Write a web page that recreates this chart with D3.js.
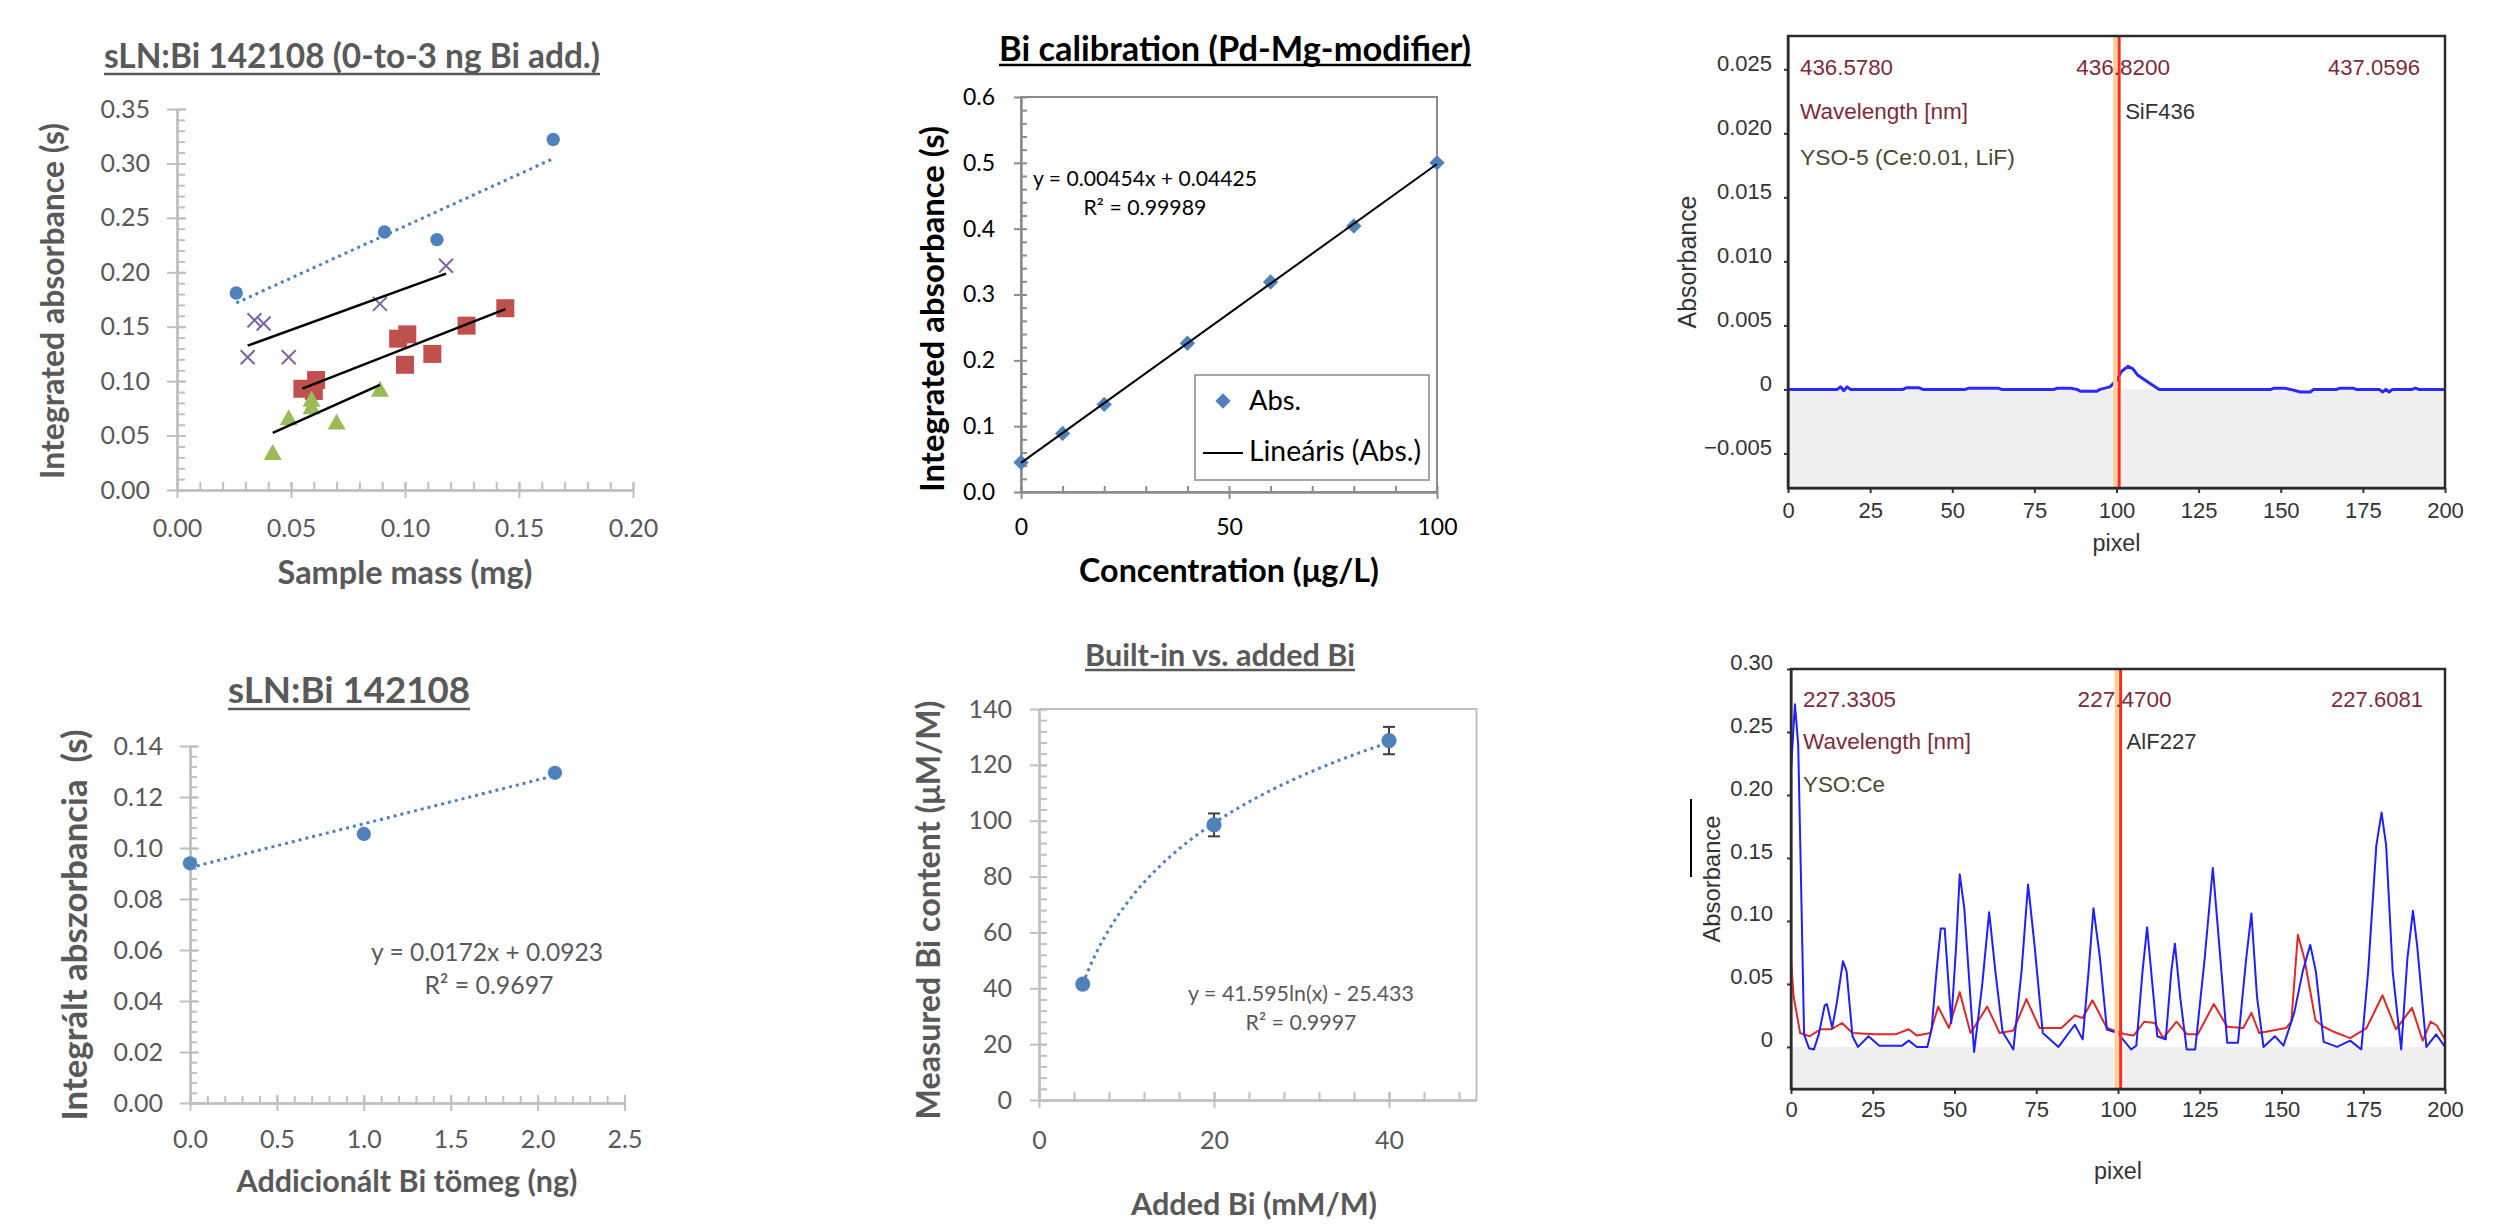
<!DOCTYPE html>
<html>
<head>
<meta charset="utf-8">
<script src="https://cdn.jsdelivr.net/npm/d3@7"></script>
<style>
  body { margin: 0; background: #fff; }
  svg { display: block; }
</style>
</head>
<body>
<script>
// ---- sLN:Bi 142108 (0-to-3 ng Bi add.) : sample mass (mg) vs integrated absorbance (s)
var massBlue = [0.026, 0.091, 0.114, 0.165];
var absBlue = [0.181, 0.237, 0.230, 0.322];
var massPurple = [0.031, 0.034, 0.038, 0.049, 0.089, 0.118];
var absPurple = [0.122, 0.156, 0.153, 0.122, 0.171, 0.206];
var massRed = [0.055, 0.061, 0.060, 0.097, 0.101, 0.100, 0.112, 0.127, 0.144];
var absRed = [0.093, 0.101, 0.091, 0.139, 0.143, 0.115, 0.125, 0.151, 0.167];
var massGreen = [0.042, 0.059, 0.059, 0.049, 0.070, 0.089];
var absGreen = [0.034, 0.083, 0.076, 0.066, 0.062, 0.092];
// trend lines as [slope, intercept]
var fitBlue = [0.954, 0.147];
var fitPurple = [0.761, 0.109];
var fitRed = [0.820, 0.048];
var fitGreen = [0.939, 0.013];

// ---- Bi calibration (Pd-Mg-modifier)
var calConc = [0, 10, 20, 40, 60, 80, 100];
var calAbs = [0.045, 0.089, 0.133, 0.226, 0.319, 0.404, 0.500];
var calFit = [0.00454, 0.04425];

// ---- sLN:Bi 142108 (standard addition)
var addMass = [0.0, 1.0, 2.1];
var addAbs = [0.094, 0.1055, 0.1295];
var addFit = [0.0172, 0.0923];

// ---- Built-in vs. added Bi
var addedBi = [5, 20, 40];
var measuredBi = [41.5, 98.5, 128.7];
var measuredErr = [0, 4.1, 4.9];
var logFit = [41.595, -25.433];

// ---- SiF436 spectrum, [pixel, absorbance]
var sifBlue = [[0,0],[15,0],[16,0.0002],[17,-0.0001],[18,0.0002],[19,0],[35,0],[36,0.00012],[40,0.00012],
  [41,0],[54,0],[55,0.0001],[64,0.0001],[65,0],[81,0],[82,0.0001],[86,0.0001],[88,0],[89,-0.00015],
  [94,-0.00015],[95,0],[98,0.0002],[100,0.0007],[101.5,0.0014],[103.5,0.0018],[105,0.0016],[106.5,0.0011],
  [110,0.0005],[113,0],[147,0],[148,0.0001],[151,0.0001],[153,0],[156,-0.0002],[159,-0.0002],[160,0],
  [167,0],[168,0.0001],[172,0.0001],[173,0],[180,0],[181,-0.0002],[182,0],[183,-0.0002],[184,0],
  [190,0],[191,0.0001],[192,0],[200,0]];
var sifMarker = 100.8;
var sifWave = ['436.5780', '436.8200', '437.0596'];

// ---- AlF227 spectrum, [pixel, absorbance]
var alfBlue = [[0,0.22],[1.2,0.272],[2.2,0.24],[3,0.14],[4,0.01],[5.5,-0.001],[7,-0.002],[8.5,0.01],
  [10.3,0.033],[11,0.034],[12.6,0.015],[14,0.035],[15.9,0.068],[17,0.06],[18.8,0.0085],[20.5,0],
  [23.7,0.0085],[27,0.001],[34,0.001],[36,0.005],[38.5,0],[41.7,0],[43,0.014],[44.5,0.06],[45.8,0.094],
  [47,0.094],[49,0.019],[50.5,0.08],[51.6,0.137],[53,0.11],[56,-0.004],[58.5,0.05],[60.6,0.107],
  [62.5,0.06],[64.7,0.012],[68,-0.002],[70.5,0.06],[72.5,0.129],[74.5,0.08],[77,0.011],[81.8,0],
  [86.8,0.0176],[89.2,0.006],[91,0.06],[92.5,0.11],[94.5,0.07],[96.6,0.0137],[99.9,0.011],[104,-0.002],
  [105.6,0.001],[107.5,0.06],[108.9,0.095],[110.5,0.05],[112,0.0085],[114.6,0.006],[116.3,0.06],
  [117.4,0.082],[119,0.04],[121,-0.002],[123.6,-0.002],[126.5,0.07],[129,0.142],[131,0.08],[133.4,0.0034],
  [136.7,0.0034],[139.2,0.07],[140.8,0.106],[142.5,0.04],[144.5,0],[148,0.0085],[150.6,0.001],
  [153.9,0.027],[156.5,0.06],[158.8,0.081],[160.5,0.06],[162.9,0.004],[167,0],[171,0.005],[174.4,-0.002],
  [176.5,0.06],[179,0.16],[180.6,0.186],[182,0.16],[184,0.06],[186.6,-0.002],[188.5,0.07],[190.2,0.108],
  [191.5,0.08],[194.3,0],[197.3,0.01],[200,0]];
var alfRed = [[0,0.07],[0.8,0.04],[2.8,0.011],[5.7,0.0085],[9,0.014],[12.3,0.014],[15.6,0.019],[18.8,0.011],
  [25.4,0.01],[31.9,0.01],[36,0.014],[38.5,0.009],[42.6,0.011],[45,0.032],[48.3,0.015],[51.6,0.0435],
  [54.9,0.011],[60,0.032],[63.8,0.011],[68,0.013],[72,0.038],[76,0.015],[82.7,0.015],[86.8,0.025],
  [89.2,0.023],[92.2,0.037],[96.6,0.015],[102.3,0.01],[104.8,0.009],[108,0.02],[111.3,0.019],[113.8,0.007],
  [117.9,0.02],[121.1,0.01],[124.4,0.01],[129.3,0.034],[133.4,0.016],[138.3,0.015],[140.8,0.027],
  [143.2,0.011],[151.4,0.015],[153,0.02],[155,0.089],[157,0.07],[160.4,0.021],[162.9,0.016],[166,0.012],
  [171,0.007],[176,0.015],[180.9,0.041],[185,0.014],[189.9,0.031],[193.2,0.005],[195.6,0.02],[197.5,0.017],
  [200,0.006]];
var alfMarker = 100.8;
var alfWave = ['227.3305', '227.4700', '227.6081'];

var pixelTicks = d3.range(0, 201, 25);

var EXCEL_FONT = 'Lato, "Open Sans", sans-serif';
var SPEC_FONT = '"Liberation Sans", Arial, sans-serif';
var XL_BLUE = '#4f81bd';

var svg = d3.select('body').append('svg').attr('width', 2499).attr('height', 1224);
svg.append('rect').attr('width', 2499).attr('height', 1224).attr('fill', '#fff');

// scale a text's font size so that it spans the given width
function fitText(sel, width) {
    var size = parseFloat(sel.attr('font-size'));
    var len = sel.node().getComputedTextLength();
    if(len > 0) sel.attr('font-size', (size * width / len).toFixed(2));
    return sel;
}

function addText(g, txt, x, y, o) {
    var t = g.append('text')
        .attr('x', x).attr('y', y)
        .attr('text-anchor', o.anchor || 'middle')
        .attr('font-family', o.font || EXCEL_FONT)
        .attr('font-weight', o.bold ? 'bold' : 'normal')
        .attr('font-size', o.size || 24)
        .attr('fill', o.color || '#000')
        .style('white-space', 'pre')
        .text(txt);
    if(o.width) fitText(t, o.width);
    return t;
}

function title(g, txt, cx, base, width, ul, color) {
    addText(g, txt, cx, base, {bold: true, size: 30, color: color, width: width});
    g.append('line')
        .attr('x1', cx - width / 2).attr('x2', cx + width / 2)
        .attr('y1', ul).attr('y2', ul)
        .attr('stroke', color).attr('stroke-width', 2.5);
}

function vLabel(g, txt, bx, cy, len, o) {
    addText(g, txt, 0, 0, Object.assign({width: len}, o))
        .attr('transform', 'translate(' + bx + ',' + cy + ') rotate(-90)');
}

function steps(dom, step) {
    return d3.range(dom[0], dom[1] + step / 2, step);
}

// Excel style axes: labelled major ticks outside, optional inner major and minor ticks
function excelAxes(g, x, y, o) {
    var ax = g.append('g');
    var x0 = x.range()[0];
    var y0 = y.range()[0];
    var yMaj = steps(y.domain(), o.yStep);
    var xMaj = steps([x.domain()[0], o.xLast || x.domain()[1]], o.xStep);

    ax.append('g').attr('transform', 'translate(' + x0 + ',0)')
        .call(d3.axisRight(y).tickValues(steps(y.domain(), o.yMinor)).tickSize(o.minor).tickSizeOuter(0).tickFormat(''));
    ax.append('g').attr('transform', 'translate(0,' + y0 + ')')
        .call(d3.axisTop(x).tickValues(steps(x.domain(), o.xMinor)).tickSize(o.minor).tickSizeOuter(0).tickFormat(''));
    if(o.yIn) {
        ax.append('g').attr('transform', 'translate(' + x0 + ',0)')
            .call(d3.axisRight(y).tickValues(yMaj).tickSize(o.yIn).tickSizeOuter(0).tickFormat(''));
    }
    if(o.xIn) {
        ax.append('g').attr('transform', 'translate(0,' + y0 + ')')
            .call(d3.axisTop(x).tickValues(xMaj).tickSize(o.xIn).tickSizeOuter(0).tickFormat(''));
    }
    ax.append('g').attr('class', 'ylab').attr('transform', 'translate(' + x0 + ',0)')
        .call(d3.axisLeft(y).tickValues(yMaj).tickSize(o.yOut).tickSizeOuter(0)
            .tickPadding(o.yPad).tickFormat(o.yFmt));
    ax.append('g').attr('class', 'xlab').attr('transform', 'translate(0,' + y0 + ')')
        .call(d3.axisBottom(x).tickValues(xMaj).tickSize(o.xOut).tickSizeOuter(0)
            .tickPadding(o.xPad).tickFormat(o.xFmt));

    ax.selectAll('path.domain, line').attr('stroke', o.stroke).attr('stroke-width', o.sw || 2);
    ax.selectAll('text')
        .attr('font-family', EXCEL_FONT)
        .attr('font-size', o.fs)
        .attr('fill', o.text);
    return ax;
}

function markers(g, xs, ys, x, y, shape, color) {
    g.selectAll(null)
        .data(d3.zip(xs, ys))
        .enter().append('path')
        .attr('transform', function(d) { return 'translate(' + x(d[0]) + ',' + y(d[1]) + ')'; })
        .attr('d', shape)
        .attr('fill', color === 'none' ? 'none' : color);
}

function linTrend(g, xs, fit, x, y, color, width, dash) {
    var ext = d3.extent(xs);
    g.append('line')
        .attr('x1', x(ext[0])).attr('y1', y(fit[0] * ext[0] + fit[1]))
        .attr('x2', x(ext[1])).attr('y2', y(fit[0] * ext[1] + fit[1]))
        .attr('stroke', color).attr('stroke-width', width)
        .attr('stroke-dasharray', dash || null);
}

var circle = d3.symbol().type(d3.symbolCircle);
var GRAY = '#595959';

// ================= panel 1 : sLN:Bi 142108 (0-to-3 ng Bi add.)
(function() {
    var g = svg.append('g');
    var x = d3.scaleLinear().domain([0, 0.2]).range([177, 633]);
    var y = d3.scaleLinear().domain([0, 0.35]).range([490, 109]);

    excelAxes(g, x, y, {
        xStep: 0.05, xMinor: 0.01, yStep: 0.05, yMinor: 0.01,
        xFmt: d3.format('.2f'), yFmt: d3.format('.2f'),
        stroke: '#bfbfbf', text: GRAY, fs: 25,
        yOut: 10, yIn: 9, xOut: 8, xIn: 8, minor: 8, yPad: 17, xPad: 21
    });

    markers(g, massBlue, absBlue, x, y, circle.size(140)(), XL_BLUE);
    g.selectAll(null).data(d3.zip(massPurple, absPurple)).enter().append('path')
        .attr('transform', function(d) { return 'translate(' + x(d[0]) + ',' + y(d[1]) + ')'; })
        .attr('d', 'M-7,-7L7,7M-7,7L7,-7')
        .attr('fill', 'none').attr('stroke', '#8064a2').attr('stroke-width', 2);
    markers(g, massRed, absRed, x, y, 'M-9,-9H9V9H-9Z', '#c0504d');
    markers(g, massGreen, absGreen, x, y, 'M0,-9L9,7H-9Z', '#9bbb59');

    linTrend(g, massBlue, fitBlue, x, y, XL_BLUE, 3, '3,4');
    linTrend(g, massPurple, fitPurple, x, y, '#000', 2.5);
    linTrend(g, massRed, fitRed, x, y, '#000', 2.5);
    linTrend(g, massGreen, fitGreen, x, y, '#000', 2.5);

    title(g, 'sLN:Bi 142108 (0-to-3 ng Bi add.)', 352, 68, 496, 74, GRAY);
    addText(g, 'Sample mass (mg)', 405, 584, {bold: true, size: 26, color: GRAY, width: 255});
    vLabel(g, 'Integrated absorbance (s)', 64, 301, 356, {bold: true, size: 26, color: GRAY});
})();

// ================= panel 2 : Bi calibration
(function() {
    var g = svg.append('g');
    var x = d3.scaleLinear().domain([0, 100]).range([1021, 1437]);
    var y = d3.scaleLinear().domain([0, 0.6]).range([492, 97]);

    g.append('rect').attr('x', 1021).attr('y', 97).attr('width', 416).attr('height', 395)
        .attr('fill', 'none').attr('stroke', '#8c8c8c').attr('stroke-width', 2);
    excelAxes(g, x, y, {
        xStep: 50, xMinor: 10, yStep: 0.1, yMinor: 0.02,
        xFmt: d3.format('d'), yFmt: d3.format('.1f'),
        stroke: '#8c8c8c', text: '#000', fs: 23,
        yOut: 7, xOut: 7, minor: 6, yPad: 19, xPad: 20
    });

    markers(g, calConc, calAbs, x, y, d3.symbol().type(d3.symbolDiamond2).size(150)(), XL_BLUE);
    linTrend(g, [0, 100], calFit, x, y, '#000', 2);

    addText(g, 'y = 0.00454x + 0.04425', 1145, 186, {size: 22, width: 224});
    addText(g, 'R² = 0.99989', 1145, 215, {size: 22, width: 123});

    // legend
    g.append('rect').attr('x', 1195).attr('y', 375).attr('width', 234).attr('height', 105)
        .attr('fill', '#fff').attr('stroke', '#a6a6a6').attr('stroke-width', 2);
    g.append('path').attr('transform', 'translate(1223,401)')
        .attr('d', d3.symbol().type(d3.symbolDiamond2).size(150)()).attr('fill', XL_BLUE);
    addText(g, 'Abs.', 1249, 410, {anchor: 'start', size: 24, width: 52});
    g.append('line').attr('x1', 1203).attr('x2', 1243).attr('y1', 453).attr('y2', 453)
        .attr('stroke', '#000').attr('stroke-width', 2);
    addText(g, 'Lineáris (Abs.)', 1249, 461, {anchor: 'start', size: 24, width: 172});

    title(g, 'Bi calibration (Pd-Mg-modifier)', 1235, 61, 472, 65, '#000');
    addText(g, 'Concentration (μg/L)', 1229, 582, {bold: true, size: 28, color: '#000', width: 300});
    vLabel(g, 'Integrated absorbance (s)', 944, 309, 366, {bold: true, size: 28, color: '#000'});
})();

// spectrum panel (instrument screenshot style)
function spectrum(o) {
    var g = svg.append('g');
    var x = d3.scaleLinear().domain([0, 200]).range([o.left, o.right]);
    var y = d3.scaleLinear().domain(o.yDom).range([o.bottom, o.top]);
    var w = o.right - o.left;

    g.append('rect').attr('x', o.left).attr('y', y(0)).attr('width', w).attr('height', o.bottom - y(0))
        .attr('fill', '#efefef');

    var ax = g.append('g');
    ax.append('g').attr('transform', 'translate(' + o.left + ',0)')
        .call(d3.axisLeft(y).tickValues(o.yTicks).tickSize(4).tickSizeOuter(0).tickPadding(o.yPad)
            .tickFormat(function(d) { return d === 0 ? '0' : o.yFmt(d); }));
    ax.append('g').attr('transform', 'translate(0,' + o.bottom + ')')
        .call(d3.axisBottom(x).tickValues(pixelTicks).tickSize(5).tickSizeOuter(0).tickPadding(o.xPad)
            .tickFormat(d3.format('d')));
    ax.selectAll('line, path.domain').attr('stroke', '#333').attr('stroke-width', 2);
    ax.selectAll('text').attr('font-family', SPEC_FONT).attr('font-size', 22).attr('fill', '#333');
    ax.selectAll('.tick text').filter(function() { return this.getAttribute('dy') === '0.32em'; })
        .attr('y', o.yShift);

    var clipId = 'clip' + o.id;
    g.append('clipPath').attr('id', clipId).append('rect')
        .attr('x', o.left).attr('y', o.top).attr('width', w).attr('height', o.bottom - o.top);
    var line = d3.line().x(function(d) { return x(d[0]); }).y(function(d) { return y(d[1]); });
    o.series.forEach(function(s) {
        g.append('path').datum(s.data).attr('d', line).attr('clip-path', 'url(#' + clipId + ')')
            .attr('fill', 'none').attr('stroke', s.color).attr('stroke-width', s.width)
            .attr('stroke-linejoin', 'round');
    });

    // marker line at the analytical wavelength
    var mx = x(o.marker);
    g.append('line').attr('x1', mx - 4).attr('x2', mx - 4).attr('y1', o.top).attr('y2', o.bottom)
        .attr('stroke', '#fbcf96').attr('stroke-width', 4);
    g.append('line').attr('x1', mx).attr('x2', mx).attr('y1', o.top).attr('y2', o.bottom)
        .attr('stroke', '#ff2a1a').attr('stroke-width', 3);

    g.append('rect').attr('x', o.left).attr('y', o.top).attr('width', w).attr('height', o.bottom - o.top)
        .attr('fill', 'none').attr('stroke', '#2b2b2b').attr('stroke-width', 2.5);

    var maroon = '#7d2b3b';
    var sf = {anchor: 'start', font: SPEC_FONT, size: 22};
    addText(g, o.wave[0], o.left + 12, o.top + o.row1, Object.assign({}, sf, {color: maroon, width: 93}));
    addText(g, o.wave[1], mx - 43, o.top + o.row1, Object.assign({}, sf, {color: maroon, width: 94}));
    addText(g, o.wave[2], o.left + 540, o.top + o.row1, Object.assign({}, sf, {color: maroon, width: 92}));
    addText(g, 'Wavelength [nm]', o.left + 12, o.top + o.row2, Object.assign({}, sf, {color: maroon, width: 168}));
    addText(g, o.line, mx + 6, o.top + o.row2, Object.assign({}, sf, {color: '#333', width: 70}));
    addText(g, o.sample, o.left + 12, o.top + o.row3, Object.assign({}, sf, {color: '#4d4833', width: o.sampleW}));

    addText(g, 'pixel', (o.left + o.right) / 2, o.pixelY, {font: SPEC_FONT, size: 23, color: '#333', width: 48});
    vLabel(g, 'Absorbance', o.absX, o.absY, o.absLen, {font: SPEC_FONT, size: 24, color: '#333'});
    return g;
}

// ================= panel 3 : SiF436
spectrum({
    id: 'sif', left: 1788, right: 2445, top: 36, bottom: 488,
    yDom: [-0.0077, 0.0276], yTicks: steps([-0.005, 0.025], 0.005), yFmt: d3.format('.3f'),
    yPad: 12, xPad: 9, yShift: -6,
    series: [{data: sifBlue, color: '#2a2aff', width: 3}],
    marker: sifMarker, wave: sifWave, line: 'SiF436', sample: 'YSO-5 (Ce:0.01, LiF)', sampleW: 215,
    row1: 39, row2: 83, row3: 129,
    pixelY: 551, absX: 1696, absY: 262, absLen: 133
});

// ================= panel 6 : AlF227
var p6 = spectrum({
    id: 'alf', left: 1791, right: 2445, top: 669, bottom: 1089,
    yDom: [-0.0334, 0.30], yTicks: steps([0, 0.30], 0.05), yFmt: d3.format('.2f'),
    yPad: 14, xPad: 7, yShift: -7,
    series: [{data: alfRed, color: '#e02828', width: 2}, {data: alfBlue, color: '#1f1fff', width: 2}],
    marker: alfMarker, wave: alfWave, line: 'AlF227', sample: 'YSO:Ce', sampleW: 82,
    row1: 38, row2: 80, row3: 123,
    pixelY: 1179, absX: 1720, absY: 879, absLen: 127
});
p6.append('line').attr('x1', 1691).attr('x2', 1691).attr('y1', 799).attr('y2', 877)
    .attr('stroke', '#000').attr('stroke-width', 2);

// ================= panel 4 : sLN:Bi 142108
(function() {
    var g = svg.append('g');
    var x = d3.scaleLinear().domain([0, 2.5]).range([190, 624.5]);
    var y = d3.scaleLinear().domain([0, 0.14]).range([1103, 746]);

    excelAxes(g, x, y, {
        xStep: 0.5, xMinor: 0.1, yStep: 0.02, yMinor: 0.004,
        xFmt: d3.format('.1f'), yFmt: d3.format('.2f'),
        stroke: '#bfbfbf', text: GRAY, fs: 25,
        yOut: 10, yIn: 9, xOut: 8, xIn: 8, minor: 7, yPad: 17, xPad: 19
    });

    markers(g, addMass, addAbs, x, y, circle.size(160)(), XL_BLUE);
    linTrend(g, addMass, addFit, x, y, XL_BLUE, 3, '3,4');

    addText(g, 'y = 0.0172x + 0.0923', 487, 961, {size: 22, color: GRAY, width: 232});
    addText(g, 'R² = 0.9697', 489, 994, {size: 22, color: GRAY, width: 129});

    title(g, 'sLN:Bi 142108', 349, 703, 242, 709, GRAY);
    addText(g, 'Addicionált Bi tömeg (ng)', 407, 1192, {bold: true, size: 26, color: GRAY, width: 341});
    vLabel(g, 'Integrált abszorbancia  (s)', 87, 925, 391, {bold: true, size: 26, color: GRAY});
})();

// ================= panel 5 : Built-in vs. added Bi
(function() {
    var g = svg.append('g');
    var x = d3.scaleLinear().domain([0, 50]).range([1039, 1476.5]);
    var y = d3.scaleLinear().domain([0, 140]).range([1100, 709]);

    g.append('path').attr('d', 'M1039,709H1476.5V1100')
        .attr('fill', 'none').attr('stroke', '#bfbfbf').attr('stroke-width', 2);
    excelAxes(g, x, y, {
        xStep: 20, xMinor: 4, yStep: 20, yMinor: 4, xLast: 40,
        xFmt: d3.format('d'), yFmt: d3.format('d'),
        stroke: '#bfbfbf', text: GRAY, fs: 25,
        yOut: 9, yIn: 8, xOut: 8, xIn: 8, minor: 8, yPad: 18, xPad: 23
    });

    var curve = d3.line()
        .x(function(v) { return x(v); })
        .y(function(v) { return y(logFit[0] * Math.log(v) + logFit[1]); });
    g.append('path').datum(d3.range(addedBi[0], addedBi[2] + 0.01, 0.5)).attr('d', curve)
        .attr('fill', 'none').attr('stroke', XL_BLUE).attr('stroke-width', 3).attr('stroke-dasharray', '3,4');

    var pts = d3.zip(addedBi, measuredBi, measuredErr).filter(function(d) { return d[2] > 0; });
    var eb = g.selectAll(null).data(pts).enter().append('g').attr('stroke', '#404040').attr('stroke-width', 2);
    eb.append('line')
        .attr('x1', function(d) { return x(d[0]); }).attr('x2', function(d) { return x(d[0]); })
        .attr('y1', function(d) { return y(d[1] - d[2]); }).attr('y2', function(d) { return y(d[1] + d[2]); });
    [-1, 1].forEach(function(s) {
        eb.append('line')
            .attr('x1', function(d) { return x(d[0]) - 6; }).attr('x2', function(d) { return x(d[0]) + 6; })
            .attr('y1', function(d) { return y(d[1] + s * d[2]); }).attr('y2', function(d) { return y(d[1] + s * d[2]); });
    });
    markers(g, addedBi, measuredBi, x, y, circle.size(180)(), XL_BLUE);

    addText(g, 'y = 41.595ln(x) - 25.433', 1301, 1001, {size: 21, color: GRAY, width: 226});
    addText(g, 'R² = 0.9997', 1301, 1030, {size: 21, color: GRAY, width: 111});

    title(g, 'Built-in vs. added Bi', 1220, 666, 270, 670, GRAY);
    addText(g, 'Added Bi (mM/M)', 1254, 1215, {bold: true, size: 26, color: GRAY, width: 246});
    vLabel(g, 'Measured Bi content (μM/M)', 940, 910, 419, {bold: true, size: 26, color: GRAY});
})();
</script>
</body>
</html>
